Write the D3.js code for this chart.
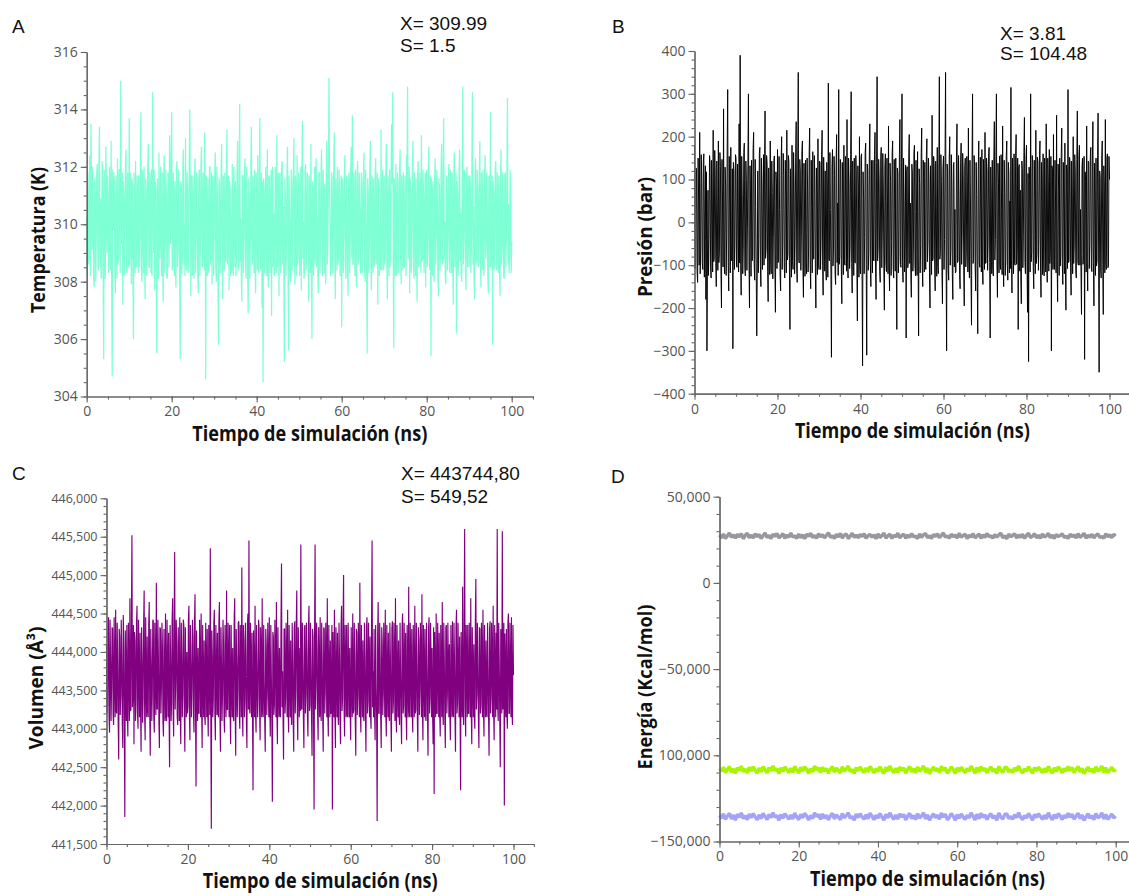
<!DOCTYPE html>
<html><head><meta charset="utf-8">
<script src="https://cdn.jsdelivr.net/npm/d3@7"></script>
<style>body{margin:0;background:#fff}svg{display:block}</style>
</head><body>
<svg id="c" width="1129" height="896"></svg>
<script>
// ---- Data (one value every 0.125 ns) ----
const temperatura = [
310.2,308.2,311.8,308.6,308.9,311.6,312.4,308.2,313.5,311.5,309.1,312.0,310.7,308.1,307.8,311.6,311.3,308.0,309.6,311.8,312.1,308.8,308.4,312.1,313.4,308.5,310.9,308.2,308.1,312.2,311.6,308.5,305.3,311.9,310.3,308.1,312.7,311.4,309.0,311.7,
311.1,308.3,308.6,312.0,310.8,308.4,312.9,308.2,304.7,311.9,309.8,311.8,311.5,308.3,307.6,311.7,310.4,308.1,312.3,308.6,308.8,311.9,311.9,308.3,315.0,311.3,309.3,311.8,307.2,311.5,311.0,308.2,309.9,312.0,312.6,308.4,308.3,311.8,310.6,308.5,
313.7,308.6,309.4,311.8,307.9,311.6,311.4,308.2,306.0,311.8,310.1,308.3,312.2,308.5,308.7,311.7,310.9,308.3,311.7,308.5,309.2,312.0,313.9,308.4,308.0,311.9,310.5,308.3,312.0,308.7,307.4,311.6,311.2,308.2,309.7,312.1,312.8,308.5,308.5,311.8,
310.8,308.3,311.9,308.2,314.6,311.4,309.0,311.9,307.7,311.5,311.3,308.4,305.5,311.6,310.2,308.1,312.5,308.8,308.9,312.0,310.6,308.2,311.8,308.5,307.3,311.7,312.4,308.3,309.5,311.9,310.9,308.1,308.2,311.8,311.6,308.5,313.1,311.4,309.3,312.0,
313.9,308.4,308.6,311.8,310.3,308.2,311.5,308.7,307.8,311.9,312.2,308.5,309.1,311.9,310.7,308.2,305.3,311.5,311.4,308.3,308.8,312.0,312.6,308.6,310.0,308.2,313.0,308.8,308.4,311.8,311.1,308.3,309.6,312.0,314.0,311.4,307.5,311.7,310.5,308.2,
311.7,308.5,308.1,311.7,312.3,308.3,309.8,311.8,310.4,308.2,307.6,311.6,311.9,308.2,309.2,312.0,312.7,308.6,308.5,311.8,310.8,308.4,313.2,311.4,304.6,311.7,310.1,308.2,311.6,308.5,308.3,312.0,312.0,308.6,309.4,311.8,307.9,311.7,311.3,308.2,
309.7,311.8,312.5,308.5,308.0,312.0,310.9,308.2,305.8,311.6,311.4,308.3,309.3,311.8,312.8,308.6,307.4,311.7,310.6,308.4,311.8,308.7,308.7,311.9,313.3,308.6,309.9,311.7,307.7,311.5,311.2,308.2,310.3,308.3,312.1,308.8,308.2,312.0,310.7,308.5,
311.5,308.2,309.0,311.9,312.9,308.5,308.4,311.8,314.2,308.7,310.2,308.2,307.3,311.7,311.7,308.3,309.5,311.8,312.3,308.6,308.1,312.0,310.8,308.3,306.9,311.6,311.0,308.1,309.2,312.0,313.4,308.8,308.6,311.7,310.5,308.3,311.9,308.5,307.6,311.8,
310.9,308.4,312.4,308.6,308.3,311.8,313.7,308.4,309.4,311.8,307.1,311.5,304.5,311.6,311.3,308.3,308.9,312.0,310.1,308.2,312.6,308.7,307.8,311.7,311.6,308.3,309.7,311.9,306.8,311.7,312.0,308.5,310.4,308.2,308.5,312.0,311.2,308.3,313.1,308.5,
309.1,311.8,307.5,311.6,311.8,308.3,308.7,312.0,312.2,308.6,310.6,308.3,305.2,311.6,311.0,308.2,309.3,311.8,312.7,308.6,305.6,311.7,310.2,308.2,308.0,311.9,311.5,308.4,309.8,311.8,313.0,308.8,307.9,311.7,310.7,308.2,312.4,308.6,308.8,311.8,
311.3,308.2,309.5,312.0,307.7,311.6,313.6,308.8,310.1,308.1,308.4,311.9,312.1,308.4,309.0,311.8,311.7,308.5,307.3,311.7,310.5,308.3,312.8,308.7,306.0,311.5,311.1,308.2,309.6,312.0,308.6,311.7,312.3,308.5,310.3,308.2,307.6,311.8,311.8,308.3,
309.2,311.7,312.6,308.5,308.2,311.9,310.8,308.3,311.4,308.6,307.9,311.7,312.9,308.6,309.4,311.8,315.1,311.4,310.0,308.2,308.5,311.8,311.6,308.3,309.1,312.0,313.2,308.8,307.4,311.6,310.6,308.4,312.0,308.6,308.9,311.9,311.2,308.2,309.8,311.7,
306.4,311.6,311.5,308.3,309.7,311.8,312.4,308.5,308.1,311.7,310.9,308.4,307.5,311.7,311.8,308.3,309.3,311.9,312.7,308.8,313.8,308.6,308.6,311.8,310.2,308.2,311.9,308.5,307.8,311.7,312.2,308.6,309.0,311.8,310.7,308.3,308.3,311.8,311.4,308.3,
309.6,311.8,312.5,308.5,308.0,311.9,310.4,308.2,305.5,311.6,311.1,308.3,309.2,312.0,312.9,308.6,307.7,311.7,310.8,308.3,311.6,308.5,308.7,311.8,312.3,308.6,309.9,311.8,307.2,311.6,311.3,308.2,310.0,308.4,313.3,308.5,308.4,311.9,310.6,308.4,
311.7,308.6,308.9,311.8,312.8,308.7,307.4,311.7,310.3,308.2,311.9,308.5,309.1,311.9,313.5,311.4,314.6,308.8,305.7,311.6,310.9,308.2,312.1,308.6,308.2,311.8,311.4,308.3,309.5,311.9,312.6,308.7,307.9,311.7,310.7,308.4,311.8,308.5,308.5,311.7,
310.2,308.2,312.4,311.4,314.8,308.8,309.3,312.0,307.6,311.6,311.2,308.3,309.8,311.9,312.9,308.6,308.1,311.8,310.5,308.2,311.6,308.6,307.3,311.7,312.2,308.5,309.0,311.8,310.8,308.3,313.1,308.8,308.7,311.9,311.0,308.3,309.6,311.8,307.8,311.6,
311.9,308.5,309.2,311.8,312.7,308.6,308.4,311.7,305.4,311.6,310.6,308.2,311.5,308.5,308.0,311.7,312.3,308.6,309.7,311.9,310.9,308.3,307.5,311.6,311.3,308.4,309.0,311.8,312.8,308.8,308.6,312.0,313.7,308.8,310.1,308.2,307.9,311.7,311.6,308.4,
309.4,311.8,312.1,308.4,308.3,311.9,310.7,308.3,311.8,308.6,307.2,311.7,312.5,308.5,309.9,311.8,306.2,311.5,311.0,308.2,308.8,311.9,312.6,308.7,310.4,308.2,308.0,311.8,314.8,308.6,309.5,311.9,311.7,308.4,307.7,311.6,312.0,308.5,310.2,311.7,
308.5,311.7,311.4,308.3,309.1,311.8,314.6,308.6,310.6,308.2,307.4,311.6,312.3,308.6,308.9,311.9,311.2,308.5,309.7,311.7,312.9,308.7,307.8,311.8,310.8,308.4,311.9,308.6,308.2,311.7,312.4,308.8,309.3,311.8,310.5,308.2,307.6,311.7,311.5,308.5,
313.9,308.5,308.7,311.7,305.8,311.5,311.1,308.4,309.8,311.9,312.2,308.5,308.4,311.8,310.9,308.3,311.7,308.5,307.5,311.6,312.6,308.6,309.2,311.8,310.3,308.2,308.1,311.7,311.8,308.5,309.6,311.8,314.4,308.6,310.7,308.3,308.9,311.9,311.0,308.3,
309.4];

const presion = [
180,-108,-95,127,120,-114,-140,150,45,-100,210,-120,-60,158,95,-96,-110,140,160,-128,30,132,-180,118,-300,-88,75,-124,-40,156,140,-104,-130,145,60,-116,215,-92,-85,168,
110,-96,-150,143,25,-112,190,-94,-70,163,130,-116,-200,147,50,-104,265,-86,-120,129,85,-124,-30,168,310,-100,-160,154,40,-118,175,-88,-90,125,-295,140,120,-110,-45,158,
150,-102,-105,136,20,-116,230,-95,390,-98,-170,154,65,-120,-60,163,185,-108,-125,143,100,-112,-15,152,300,-92,-200,132,55,-126,145,-90,-80,172,210,-96,-135,147,35,-116,
-265,-104,120,-118,-40,161,175,-100,-150,150,80,-110,25,158,-100,122,260,-84,-60,156,135,-114,-185,127,45,-122,190,-98,-120,143,70,-132,-35,145,155,-106,-210,118,90,-108,
170,-94,-90,154,30,-124,-160,140,200,-110,-50,161,110,-104,-130,145,60,-118,215,-88,-75,156,140,-108,-250,125,20,-128,180,-92,-110,163,85,-120,-45,152,235,-102,-140,143,
350,-90,-95,147,120,-112,-30,165,190,-104,-175,138,55,-126,145,-96,-120,150,80,-116,-60,158,220,-98,-155,145,35,-118,165,-86,-85,156,100,-108,-200,127,70,-122,195,-92,
-110,143,140,-110,-45,158,215,-100,-170,152,60,-114,120,-96,-135,140,85,-128,325,-84,-90,163,30,-120,-315,129,170,-102,-60,154,110,-118,-145,136,205,-94,45,-124,310,-98,
-80,147,135,-104,-190,140,65,-122,180,-90,-100,154,25,-114,240,-86,-130,150,90,-108,-55,158,305,-96,-165,143,40,-124,150,-94,-95,156,115,-106,-230,132,75,-128,200,-100,
-120,152,160,-116,-335,118,55,-120,-35,163,185,-98,-310,136,120,-112,-70,156,230,-92,-150,145,40,-118,145,-88,-90,158,210,-102,-180,140,340,-90,-60,147,100,-114,-140,154,
175,-106,-25,161,80,-116,-205,132,160,-96,-115,150,50,-120,225,-94,-160,138,95,-124,-45,163,190,-104,-130,147,30,-114,150,-88,-250,127,115,-118,-80,158,240,-98,-105,140,
300,-92,-140,150,60,-116,-35,134,-270,120,130,-106,-95,154,205,-96,45,-120,-175,136,115,-114,-60,161,180,-100,-125,145,25,-124,165,-88,-265,125,90,-118,-50,163,220,-104,
-150,145,75,-116,140,-102,-110,156,195,-92,-45,150,105,-118,-200,132,60,-122,250,-90,-85,154,130,-104,-160,143,35,-126,175,-98,-120,140,340,-86,-70,158,95,-114,-190,127,
155,-110,-40,154,350,-88,-300,136,120,-108,-135,147,200,-100,-65,158,85,-120,-180,134,140,-104,30,-118,-115,152,230,-94,-90,156,60,-122,-155,140,185,-98,-25,161,110,-112,
-195,132,150,-104,-70,154,95,-116,220,-90,-130,145,45,-124,-240,138,300,-96,-85,156,130,-102,-160,140,65,-120,-260,122,190,-92,-105,152,25,-116,170,-100,-145,147,80,-110,
210,-96,-95,150,120,-112,-50,161,175,-94,-270,129,60,-120,145,-102,-125,143,235,-88,-40,154,300,-92,-175,138,90,-118,155,-98,-110,158,30,-122,225,-90,-150,145,70,-124,
-85,156,190,-100,-135,140,115,-118,50,-108,315,-86,-165,150,40,-120,160,-96,-100,156,205,-98,-60,150,-250,127,135,-114,75,-124,-190,143,125,-106,-30,163,245,-94,-120,147,
180,-98,-210,114,-325,129,100,-116,300,-92,-70,156,140,-106,-155,145,55,-120,215,-96,-75,152,140,-112,-40,158,190,-102,-175,140,85,-122,160,-94,-125,150,35,-116,230,-100,
-140,150,95,-114,170,-96,-60,154,-300,132,125,-110,205,-98,-110,145,45,-118,250,-90,-185,136,75,-124,150,-102,-80,161,220,-94,-145,140,30,-120,185,-100,-205,134,115,-108,
310,-94,-90,152,140,-106,-170,143,65,-120,200,-96,-55,158,120,-114,-130,147,260,-92,-100,156,180,-100,30,-116,-215,132,150,-98,-75,154,-320,118,95,-116,225,-92,-160,143,
140,-108,-45,154,175,-104,-115,145,235,-94,-195,138,60,-124,150,-102,-90,156,255,-88,-350,120,105,-114,-130,150,190,-98,-215,132,80,-118,240,-96,-110,152,160,-106,-100,154,
100];

const volumen = [
444100,443200,443300,444350,444450,443150,442950,444420,443900,443100,443550,444320,444300,443180,443050,444450,443700,443150,444550,443230,443200,444380,443850,443080,442600,444300,444200,443180,443450,444420,443950,443100,442750,444480,444050,443150,441850,444280,443650,443100,
444350,443200,442900,444380,443800,443100,444700,443230,443250,444450,445520,443280,443500,444350,442800,444260,444150,443100,443350,444380,444600,443200,443000,444420,443750,443150,444250,443250,442700,444320,443900,443080,443400,444350,444800,443180,442850,444450,443600,443150,
444200,443250,443150,444350,444650,443180,442650,444300,443850,443100,443450,444420,444400,443150,442950,444380,443700,443180,444900,443280,443250,444420,443950,443100,442750,444320,444300,443200,443550,444380,444050,443080,442900,444300,443650,443100,444500,443180,443100,444420,
443800,443150,444250,443180,442500,444350,443950,443100,443350,444420,444700,443200,442900,444350,445300,443250,443600,444420,444100,443150,443050,444320,443750,443100,444450,443200,442800,444380,443900,443150,443450,444420,444350,443180,442700,444320,443700,443150,444000,443200,
443300,444420,444600,443180,442850,444350,443850,443150,443500,444420,444200,443200,442950,444380,444750,443230,442250,444280,443650,443100,444050,443200,443200,444420,443900,443150,444500,443250,442750,444350,443550,443150,444150,443180,443050,444380,443800,443150,444300,443250,
442900,444350,443700,443180,445350,443250,441700,444280,443950,443150,443400,444380,444550,443200,442850,444350,443750,443180,444250,443230,443150,444420,444650,443180,442700,444320,443850,443100,443450,444420,444100,443150,442950,444350,443650,443150,444800,443250,443250,444380,
443900,443150,444350,443200,442800,444350,443600,443150,444050,443180,443100,444420,444700,443230,442650,444300,443800,443150,443500,444380,444400,443200,443000,444350,443700,443150,445100,443280,442900,444350,444150,443150,443350,444380,443950,443100,442750,444350,444500,443250,
445450,443280,443200,444380,443850,443150,444250,443200,442200,444280,443650,443150,444600,443200,442950,444350,443750,443150,443400,444420,444300,443200,442850,444320,443900,443150,444700,443250,443150,444350,443600,443100,442700,444300,444100,443180,443450,444380,443800,443150,
444450,443230,442900,444350,443700,443100,442050,444260,444200,443180,443300,444420,443950,443150,444650,443230,442800,444320,443550,443150,444050,443200,443150,444380,445150,443280,443750,443150,442600,444300,444300,443200,443400,444380,443850,443150,444550,443250,442950,444350,
443650,443150,444150,443180,443050,444380,443900,443100,442700,444300,444400,443200,443500,444350,444800,443250,442850,444320,443700,443150,444050,443230,445400,443280,443250,444380,443800,443150,442750,444300,444350,443200,443450,444380,443950,443150,442900,444320,444600,443230,
443300,444380,443850,443150,442650,444300,444200,443180,441950,444240,445400,443250,443600,444380,444050,443180,442850,444320,443750,443150,444450,443230,443100,444380,443900,443150,442700,444320,444300,443200,443500,444380,443950,443150,444700,443230,442900,444350,443650,443150,
444150,443200,443200,444350,441950,444260,443800,443150,444550,443200,442750,444320,443700,443150,444250,443200,443050,444380,443950,443150,442800,444300,444600,443230,443400,444380,445000,443250,442900,444350,443850,443150,444350,443200,443150,444380,443700,443150,444050,443200,
442850,444320,443600,443150,444500,443200,443250,444380,443900,443100,442650,444300,444250,443180,443450,444380,443800,443150,444900,443250,442950,444350,443700,443150,444150,443180,443100,444380,443950,443150,442700,444320,444450,443200,443350,444380,443850,443150,444200,443200,
443000,444350,445450,443280,443750,443150,444300,443200,442850,444350,443550,443150,441800,444240,444650,443200,443200,444380,443900,443150,442750,444320,444100,443180,443450,444380,443800,443150,444550,443200,442900,444350,443650,443150,444250,443200,443100,444380,443950,443150,
442700,444300,444400,443200,443350,444380,443850,443100,444700,443230,442950,444350,443600,443150,444150,443180,443050,444380,443750,443150,442800,444320,444500,443200,443300,444380,443900,443150,444250,443200,442850,444350,443700,443150,444850,443250,443150,444380,443800,443150,
444300,443200,442950,444350,443650,443150,444600,443200,443250,444380,443850,443150,442700,444320,444150,443180,443500,444380,443950,443150,444750,443230,442850,444350,443700,443150,444300,443200,443100,444380,443800,443150,442650,444300,444450,443200,443400,444380,443900,443150,
444050,443180,442800,444320,442150,444260,443650,443150,444500,443200,443200,444380,443850,443150,444250,443200,442900,444350,443700,443150,444650,443230,443050,444380,443900,443150,442750,444320,444350,443200,443450,444380,443800,443150,444100,443180,442850,444350,443600,443150,
444400,443200,443150,444380,443900,443150,442700,444320,444550,443200,443350,444380,443750,443150,444200,443200,442200,444260,443600,443150,444850,443230,443050,444380,445600,443280,442900,444350,443850,443150,444350,443200,443200,444380,443700,443150,444700,443230,442800,444320,
443650,443150,444100,443200,443000,444380,444950,443250,443450,444380,443850,443150,442750,444320,444300,443200,443300,444380,443950,443150,444550,443230,442900,444350,443600,443150,444150,443200,443150,444380,443800,443150,442650,444300,444400,443200,443400,444380,443900,443150,
444600,443200,442850,444350,443700,443150,444250,443250,445600,443280,443100,444380,443850,443150,442500,444300,444000,443200,445570,443250,443350,444380,442000,444240,443750,443150,444300,443200,443000,444380,444500,443200,443200,444380,443650,443150,444450,443230,443050,444350,
443700];

const energiaGris = [
27800,26100,28400,25700,27300,28900,26400,27900,25900,28200,26700,28600,25600,27500,28800,26200,27700,26000,28500,26800,
28100,25800,27400,29000,26300,27600,25700,28300,26900,28700,26100,27200,28600,25900,27800,26400,28900,26600,27300,25800,
28400,26200,27900,25600,28200,27000,28800,26300,27500,25900,28500,26700,28000,26100,27600,29100,26400,27300,25800,28300,
26600,28700,26000,27700,28400,25700,27100,28900,26300,27800,26100,28200,26800,28600,25900,27400,28100,26500,27900,25600,
28500,26200,27600,28800,26000,27300,28300,25800,27700,26600,28900,26100,27500,28200,25900,27800,26400,28600,26700,27200,
25700,28400,26300,27900,28700,26100,27400,25800,28100,26900,28500,26200,27600,29000,26500,27300,25900,28300,26700,27800,
26000,28800,26400,27500,28200,25700,27700,26600,28600,26100,27200,28400,25800,27900,26300,28700,26800,27400,25900,28100,
26500,27800,28900,26200,27300,25600,28300,26700,27600,28500,26000,27900,26400,28200,25800,27500,28800,26300,27100,28600,
26100,27700,25900,28400,26600,27300,28700,26200,27800,25700,28100,26900,27500,28500,26300,27200,25800,28300,26700,27900,
26000,28600,26400,27400,28800,25900,27700,26500,28200,26100,27600,28400,26300,27000,25800,28500,26700,27900,26200,28100,
27200];

const energiaVerde = [
-107600,-109300,-106900,-110100,-108200,-106500,-109800,-107900,-110500,-107200,-108800,-106300,-109500,-108000,-110300,-107000,-109100,-106700,-108600,-110400,
-107400,-109700,-106600,-108400,-110200,-107100,-109000,-106200,-108900,-107700,-110600,-107300,-109400,-106800,-108300,-110000,-107500,-109900,-106400,-108700,
-110300,-107000,-109200,-106600,-108100,-110500,-107800,-109600,-106300,-108500,-107200,-110100,-106900,-109300,-107600,-110400,-108000,-106500,-109800,-107400,
-108800,-110200,-106700,-109100,-107900,-106200,-109500,-108300,-110600,-107100,-109000,-106800,-108600,-110000,-107300,-109700,-106400,-108200,-110300,-107700,
-109400,-106600,-108900,-110500,-107000,-109200,-106300,-108400,-110100,-107500,-109900,-106900,-108700,-107200,-110400,-108100,-106500,-109600,-107800,-110200,
-106700,-109300,-108000,-106200,-109800,-107400,-110600,-108500,-106800,-109100,-107600,-110000,-106400,-108800,-107100,-110300,-109000,-106600,-108300,-110500,
-107300,-109500,-106900,-108600,-110100,-107700,-109200,-106300,-108200,-110400,-107000,-109700,-106500,-108900,-107500,-110200,-108100,-106700,-109400,-107900,
-110600,-106400,-108700,-109900,-107200,-106800,-109600,-108400,-110000,-107400,-109100,-106200,-108800,-110300,-107800,-109300,-106600,-108500,-110500,-107100,
-109000,-106900,-108300,-110100,-107600,-109800,-106300,-108600,-110400,-107300,-109500,-106700,-108000,-110200,-107700,-109200,-106500,-108900,-107000,-110000,
-108200,-106400,-109700,-107500,-110600,-108700,-106800,-109400,-107900,-110300,-106600,-109100,-108400,-106200,-109900,-107200,-110100,-108600,-106900,-109300,
-108100];

const energiaAzul = [
-134800,-136500,-133900,-137200,-135300,-133600,-136900,-134700,-137600,-134200,-135900,-133400,-136700,-135000,-137400,-134100,-136200,-133800,-135700,-137500,
-134500,-136800,-133700,-135500,-137300,-134300,-136100,-133300,-136000,-134900,-137700,-134400,-136600,-133900,-135400,-137100,-134600,-137000,-133500,-135800,
-137400,-134200,-136300,-133700,-135200,-137600,-134900,-136700,-133400,-135600,-134300,-137200,-134000,-136500,-134700,-137500,-135100,-133600,-136900,-134500,
-135900,-137300,-133800,-136200,-135000,-133300,-136600,-135400,-137700,-134100,-136100,-133900,-135700,-137100,-134400,-136800,-133500,-135300,-137400,-134800,
-136500,-133700,-136000,-137600,-134200,-136300,-133400,-135500,-137200,-134600,-137000,-134000,-135800,-134300,-137500,-135200,-133600,-136700,-134900,-137300,
-133800,-136400,-135100,-133300,-136900,-134500,-137700,-135600,-133900,-136200,-134700,-137100,-133500,-135900,-134100,-137400,-136100,-133700,-135400,-137600,
-134400,-136600,-134000,-135700,-137200,-134800,-136300,-133400,-135300,-137500,-134100,-136800,-133600,-136000,-134600,-137300,-135200,-133800,-136500,-135000,
-137700,-133500,-135800,-137000,-134300,-133900,-136700,-135500,-137100,-134500,-136200,-133300,-135900,-137400,-134900,-136400,-133700,-135600,-137600,-134200,
-136100,-134000,-135400,-137200,-134700,-136900,-133400,-135700,-137500,-134400,-136600,-133800,-135100,-137300,-134800,-136300,-133600,-136000,-134100,-137100,
-135300,-133500,-136800,-134600,-137700,-135800,-133900,-136500,-135000,-137400,-133700,-136200,-135500,-133300,-137000,-134300,-137200,-135700,-134000,-136400,
-135200];

const xTicks = [0, 20, 40, 60, 80, 100];
const tempTicks = [304, 306, 308, 310, 312, 314, 316];
const presTicks = [-400, -300, -200, -100, 0, 100, 200, 300, 400];
const volTicks = [441500, 442000, 442500, 443000, 443500, 444000, 444500, 445000, 445500, 446000];
const volTickLabels = ["441,500","442,000","442,500","443,000","443,500","444,000","444,500","445,000","445,500","446,000"];
const enerTicks = [-150000, -100000, -50000, 0, 50000];
const enerTickLabels = ["\u2212150,000","100,000","\u221250,000","0","50,000"];
const xTitle = "Tiempo de simulación (ns)";

// ---- Drawing ----
const svg = d3.select("#c");
svg.append("rect").attr("width", 1129).attr("height", 896).attr("fill", "#fff");

function panel(cfg) {
  const x = d3.scaleLinear().domain([0, 100]).range([cfg.x0, cfg.x100]);
  const xAx = d3.scaleLinear().domain([0, 105]).range([cfg.x0, x(105)]);
  const y = d3.scaleLinear().domain(cfg.yDomain).range([cfg.yB, cfg.yT]);
  const g = svg.append("g");

  cfg.series.forEach(s => {
    const n = s.values.length;
    const line = d3.line().x((d, i) => x(i * 100 / (n - 1))).y(d => y(d));
    g.append("path").datum(s.values).attr("d", line)
      .attr("fill", "none").attr("stroke", s.color)
      .attr("stroke-width", s.width).attr("stroke-linejoin", "bevel");
  });

  const axColor = "#666";
  const style = (sel, fs) => {
    sel.selectAll(".domain").attr("stroke", axColor).attr("stroke-width", 1.2);
    sel.selectAll(".tick line").attr("stroke", axColor).attr("stroke-width", 1.1);
    sel.selectAll(".tick text").attr("fill", "#555")
      .attr("font-family", "'Open Sans', sans-serif").attr("font-size", fs);
  };

  const gx = g.append("g").attr("transform", `translate(0,${cfg.yB})`);
  gx.append("g").call(d3.axisBottom(xAx).tickValues(d3.range(0, 106, 5)).tickSize(3).tickSizeOuter(0).tickFormat(""))
    .call(s => style(s, cfg.fs));
  gx.append("g").call(d3.axisBottom(xAx).tickValues(xTicks).tickSize(6).tickSizeOuter(0).tickPadding(4))
    .call(s => style(s, cfg.fsX || cfg.fs));

  const gy = g.append("g").attr("transform", `translate(${cfg.x0},0)`);
  gy.append("g").call(d3.axisLeft(y).tickValues(cfg.minor).tickSize(3).tickSizeOuter(0).tickFormat(""))
    .call(s => style(s, cfg.fs));
  gy.append("g").call(d3.axisLeft(y).tickValues(cfg.ticks).tickSize(6).tickSizeOuter(0).tickPadding(3)
      .tickFormat((d, i) => cfg.labels ? cfg.labels[i] : d3.format("")(d)))
    .call(s => style(s, cfg.fs));

  g.append("text").attr("x", (cfg.x0 + x(105)) / 2).attr("y", cfg.yB + 44)
    .attr("text-anchor", "middle").attr("font-family", "'Open Sans', sans-serif")
    .attr("font-weight", 700).attr("font-size", 21).attr("fill", "#111")
    .attr("textLength", 235).attr("lengthAdjust", "spacingAndGlyphs").text(xTitle);
  g.append("text").attr("transform", `translate(${cfg.ytX},${cfg.ytY}) rotate(-90)`)
    .attr("text-anchor", "middle").attr("dominant-baseline", "central")
    .attr("font-family", "'Open Sans', sans-serif").attr("font-weight", 700)
    .attr("font-size", 19).attr("fill", "#111")
    .attr("textLength", cfg.ytLen).attr("lengthAdjust", "spacingAndGlyphs").text(cfg.yTitle);

  svg.append("text").attr("x", cfg.lx).attr("y", cfg.ly)
    .attr("font-family", "'Liberation Sans', Arial, sans-serif").attr("font-size", 19)
    .attr("fill", "#111").text(cfg.letter);
  if (cfg.stats) {
    cfg.stats.forEach((t, i) => {
      svg.append("text").attr("x", cfg.sx).attr("y", cfg.sy[i])
        .attr("font-family", "'Liberation Sans', Arial, sans-serif").attr("font-size", 19)
        .attr("fill", "#111").text(t);
    });
  }
}

panel({
  letter: "A", lx: 12, ly: 33, stats: ["X= 309.99", "S= 1.5"], sx: 400, sy: [29.5, 51.5],
  x0: 86.7, x100: 511.7, yB: 396.5, yT: 52, yDomain: [304, 316],
  ticks: tempTicks, minor: d3.range(304, 316.01, 0.5), fs: 14,
  yTitle: "Temperatura (K)", ytX: 38, ytY: 240, ytLen: 146,
  series: [{ values: temperatura, color: "#7fffd4", width: 1.25 }]
});
panel({
  letter: "B", lx: 612, ly: 33, stats: ["X= 3.81", "S= 104.48"], sx: 1000, sy: [40, 60],
  x0: 694.5, x100: 1109.5, yB: 393.7, yT: 51, yDomain: [-400, 400],
  ticks: presTicks, minor: d3.range(-400, 401, 20), fs: 14,
  labels: presTicks.map(d => d3.format("")(d)),
  yTitle: "Presión (bar)", ytX: 645, ytY: 237, ytLen: 120,
  series: [{ values: presion, color: "#000", width: 0.95 }]
});
panel({
  letter: "C", lx: 12, ly: 480, stats: ["X= 443744,80", "S= 549,52"], sx: 401, sy: [479.5, 502.5],
  x0: 106.5, x100: 513.5, yB: 844, yT: 498.3, yDomain: [441500, 446000],
  ticks: volTicks, labels: volTickLabels, minor: d3.range(441500, 446001, 100), fs: 12.5, fsX: 14,
  yTitle: "Volumen (Å³)", ytX: 36, ytY: 688, ytLen: 123,
  series: [{ values: volumen, color: "#800080", width: 1.15 }]
});
panel({
  letter: "D", lx: 611, ly: 483,
  x0: 719.5, x100: 1115.7, yB: 841.5, yT: 496.7, yDomain: [-150000, 50000],
  ticks: enerTicks, labels: enerTickLabels, minor: d3.range(-150000, 50001, 10000), fs: 14,
  yTitle: "Energía (Kcal/mol)", ytX: 645, ytY: 687, ytLen: 165,
  series: [
    { values: energiaGris, color: "#98989e", width: 3.4 },
    { values: energiaVerde, color: "#a8f500", width: 3.4 },
    { values: energiaAzul, color: "#a4a4f6", width: 3.4 }
  ]
});
</script>
</body></html>
